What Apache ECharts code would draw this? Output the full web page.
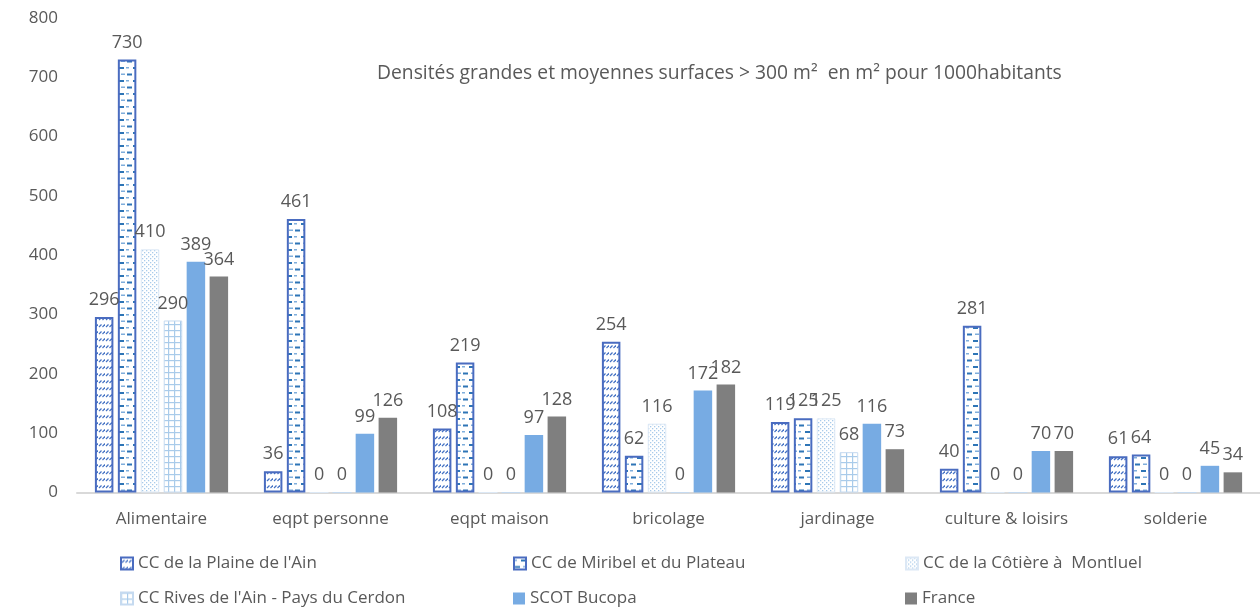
<!DOCTYPE html>
<html>
<head>
<meta charset="utf-8">
<script src="https://cdn.jsdelivr.net/npm/echarts@6/dist/echarts.min.js"></script>
<style>
  html, body { margin: 0; padding: 0; background: #fff; }
  #chart { width: 1260px; height: 607px; }
</style>
</head>
<body>
<div id="chart"></div>
<script>
// Surface density of large and medium stores (m² per 1000 inhabitants)
const categories = ['Alimentaire', 'eqpt personne', 'eqpt maison', 'bricolage', 'jardinage', 'culture & loisirs', 'solderie'];
const seriesNames = [
  "CC de la Plaine de l'Ain",
  'CC de Miribel et du Plateau',
  'CC de la Côtière à  Montluel',
  "CC Rives de l'Ain - Pays du Cerdon",
  'SCOT Bucopa',
  'France'
];
const plaineAin   = [296, 36, 108, 254, 119, 40, 61];
const miribel     = [730, 461, 219, 62, 125, 281, 64];
const cotiere     = [410, 0, 0, 116, 125, 0, 0];
const rivesAin    = [290, 0, 0, 0, 68, 0, 0];
const scotBucopa  = [389, 99, 97, 172, 116, 70, 45];
const france      = [364, 126, 128, 182, 73, 70, 34];
const yTicks = { min: 0, max: 800, interval: 100 };

const TEXT = '#595959';
const FONT = 'Open Sans';

// Tiled canvas fills for the hatched bars
function pattern(w, h, draw) {
  const c = document.createElement('canvas');
  c.width = w; c.height = h;
  const ctx = c.getContext('2d');
  ctx.fillStyle = '#ffffff';
  ctx.fillRect(0, 0, w, h);
  draw(ctx);
  return { image: c, repeat: 'repeat' };
}
const diagDash = pattern(7, 7, ctx => {
  ctx.strokeStyle = '#4472C4';
  ctx.lineWidth = 1.2;
  ctx.beginPath(); ctx.moveTo(1, 5); ctx.lineTo(3.5, 2.5); ctx.stroke();
  ctx.beginPath(); ctx.moveTo(4.5, 5); ctx.lineTo(7, 2.5); ctx.stroke();
});
const horizDash = pattern(14, 13, ctx => {
  ctx.fillStyle = '#2E75B6';
  ctx.fillRect(7, 2, 5, 2);
  ctx.fillStyle = '#7FAEDC';
  ctx.fillRect(0, 2, 3, 1.5);
  ctx.fillStyle = '#2E75B6';
  ctx.fillRect(1, 8.5, 5, 2);
  ctx.fillStyle = '#7FAEDC';
  ctx.fillRect(9, 8.5, 4, 1.5);
});
const dotted = pattern(4, 4, ctx => {
  ctx.fillStyle = '#A9CBEA';
  ctx.fillRect(0, 0, 1.3, 1.3);
  ctx.fillRect(2, 2, 1.3, 1.3);
});
const grid = pattern(6, 6, ctx => {
  ctx.fillStyle = '#A9CBEA';
  ctx.fillRect(0, 0, 6, 1.2);
  ctx.fillRect(0, 0, 1.2, 6);
});

const styles = [
  { color: diagDash, borderColor: '#4A6CC0', borderWidth: 2 },
  { color: horizDash, borderColor: '#4A6CC0', borderWidth: 2 },
  { color: dotted, borderColor: '#DCE8F5', borderWidth: 1 },
  { color: grid, borderColor: '#C5DAF0', borderWidth: 1 },
  { color: '#77ABE3' },
  { color: '#7F7F7F' }
];
const values = [plaineAin, miribel, cotiere, rivesAin, scotBucopa, france];

const series = values.map((data, i) => ({
  name: seriesNames[i],
  type: 'bar',
  data: data,
  barWidth: 18.5,
  barGap: '24%',
  itemStyle: styles[i],
  label: {
    show: true,
    position: 'top',
    distance: 8,
    color: TEXT,
    fontFamily: FONT,
    fontSize: 18
  }
}));

// Legend laid out as a 3 x 2 table, one legend box per entry
const legendCells = [[120, 555], [513, 555], [905, 555], [120, 590], [513, 590], [905, 590]];
const legends = seriesNames.map((name, k) => ({
  left: legendCells[k][0],
  top: legendCells[k][1],
  padding: 0,
  icon: 'rect',
  itemWidth: 12,
  itemHeight: 12,
  itemGap: 4,
  data: [name],
  textStyle: { color: TEXT, fontFamily: FONT, fontSize: 17 }
}));

const chart = echarts.init(document.getElementById('chart'), null, { renderer: 'canvas' });
chart.setOption({
  animation: false,
  backgroundColor: '#ffffff',
  textStyle: { fontFamily: FONT },
  grid: { left: 77, right: -14, top: 18, bottom: 114.5, containLabel: false },
  xAxis: {
    type: 'category',
    data: categories,
    axisLine: { lineStyle: { color: '#D9D9D9', width: 2 } },
    axisTick: { show: false },
    axisLabel: { color: TEXT, fontFamily: FONT, fontSize: 17, margin: 18 }
  },
  yAxis: {
    type: 'value',
    min: yTicks.min,
    max: yTicks.max,
    interval: yTicks.interval,
    axisLine: { show: false },
    axisTick: { show: false },
    splitLine: { show: false },
    axisLabel: { color: TEXT, fontFamily: FONT, fontSize: 17, margin: 19 }
  },
  legend: legends,
  graphic: [{
    type: 'text',
    left: 377,
    top: 64,
    style: {
      text: 'Densités grandes et moyennes surfaces > 300 m²  en m² pour 1000habitants',
      fill: TEXT,
      font: '19.3px "' + FONT + '"'
    }
  }],
  series: series
});
</script>
</body>
</html>
